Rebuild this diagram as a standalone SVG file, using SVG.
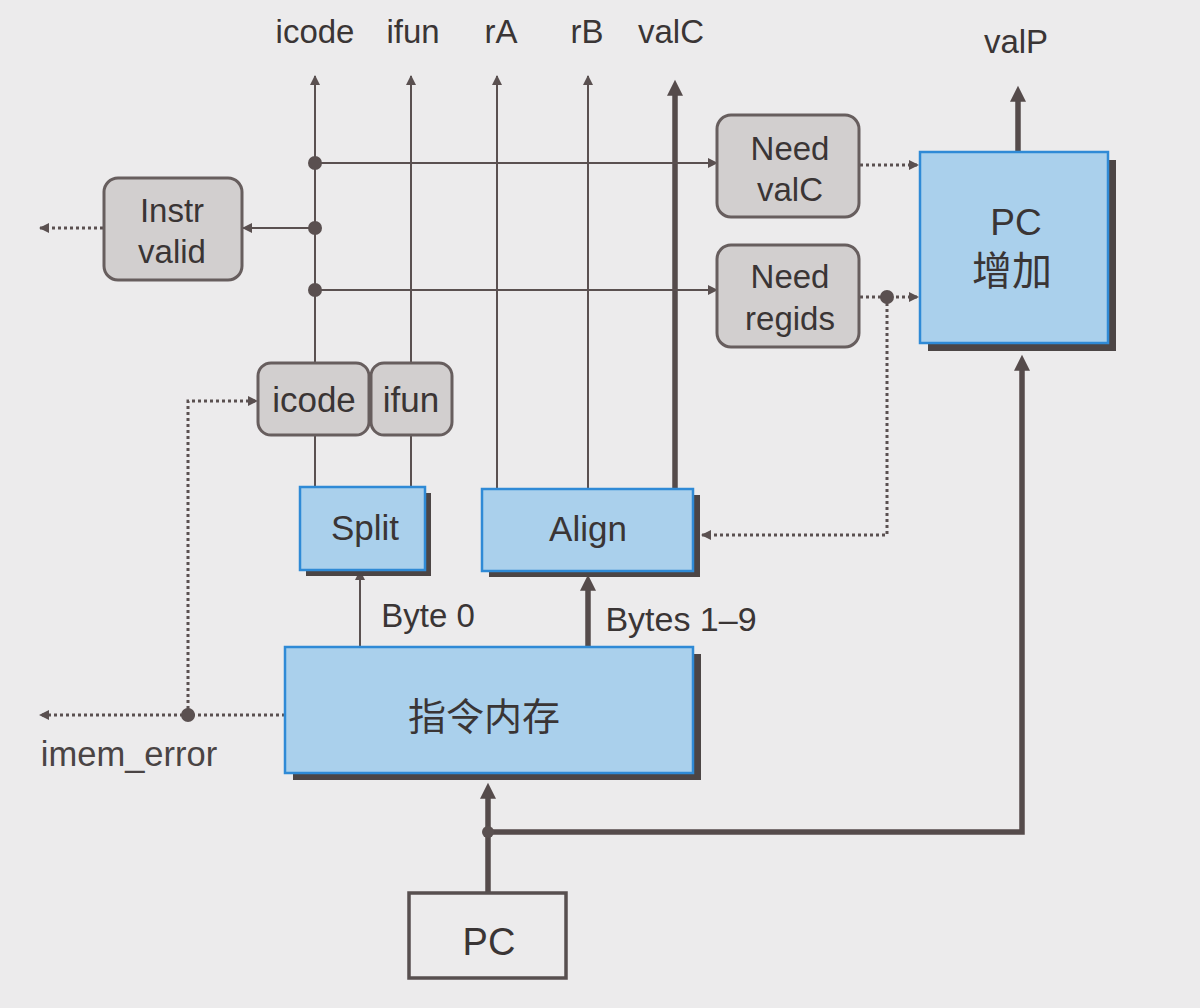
<svg xmlns="http://www.w3.org/2000/svg" width="1200" height="1008" viewBox="0 0 1200 1008">
  <defs>
    <style>
      .bg { fill: #ecebec; }
      .txt { font-family: "Liberation Sans", "Noto Sans CJK SC", sans-serif; fill: #3a3535; text-anchor: middle; }
      .lbl { font-size: 33px; }
      .box-txt { font-size: 35px; }
      .cjk { font-family: "Noto Sans CJK SC", "Liberation Sans", sans-serif; }
      .gray { fill: #d2cfcf; stroke: #675e5e; stroke-width: 3; }
      .blue { fill: #aad0ec; stroke: #2f8ad6; stroke-width: 2.5; }
      .shadow { fill: #4c4545; }
      .plain { fill: #ecebec; stroke: #574f4f; stroke-width: 3.5; }
      .thin { fill: none; stroke: #5a5050; stroke-width: 2; }
      .thick { fill: none; stroke: #554b4b; stroke-width: 5.5; }
      .dot { fill: none; stroke: #5a5050; stroke-width: 3; stroke-dasharray: 3 3; }
      .junction { fill: #5a5050; }
    </style>
    <marker id="aThin" viewBox="0 0 10 10" refX="9" refY="5" markerUnits="userSpaceOnUse" markerWidth="14" markerHeight="10" orient="auto">
      <path d="M0,0 L10,5 L0,10 z" fill="#5a5050"/>
    </marker>
    <marker id="aThick" viewBox="0 0 10 10" refX="3" refY="5" markerUnits="userSpaceOnUse" markerWidth="18" markerHeight="16" orient="auto">
      <path d="M0,0 L10,5 L0,10 z" fill="#554b4b"/>
    </marker>
    <marker id="aDot" viewBox="0 0 10 10" refX="9" refY="5" markerUnits="userSpaceOnUse" markerWidth="13" markerHeight="10" orient="auto">
      <path d="M0,0 L10,5 L0,10 z" fill="#5a5050"/>
    </marker>
  </defs>

  <rect class="bg" x="0" y="0" width="1200" height="1008"/>

  <!-- signal labels -->
  <g id="labels">
    <text class="txt lbl" x="315" y="43">icode</text>
    <text class="txt lbl" x="413" y="43">ifun</text>
    <text class="txt lbl" x="501" y="43">rA</text>
    <text class="txt lbl" x="587" y="43">rB</text>
    <text class="txt lbl" x="671" y="43">valC</text>
    <text class="txt lbl" x="1016" y="53">valP</text>
    <text class="txt lbl" x="428" y="627">Byte 0</text>
    <text class="txt" x="681" y="631" style="font-size:34px">Bytes 1–9</text>
    <text class="txt" x="129" y="766" style="font-size:34.5px;fill:#4a4444">imem_error</text>
  </g>

  <!-- connectors -->
  <g id="connectors">
    <path class="thin" d="M315 363 V76" marker-end="url(#aThin)"/>
    <path class="thin" d="M315 435 V487"/>
    <path class="thin" d="M411 363 V76" marker-end="url(#aThin)"/>
    <path class="thin" d="M411 435 V487"/>
    <path class="thin" d="M497 489 V76" marker-end="url(#aThin)"/>
    <path class="thin" d="M588 489 V76" marker-end="url(#aThin)"/>
    <path class="thick" d="M675 489 V91" marker-end="url(#aThick)"/>

    <path class="thin" d="M315 163 H717" marker-end="url(#aThin)"/>
    <path class="thin" d="M315 228 H243" marker-end="url(#aThin)"/>
    <path class="thin" d="M315 290 H717" marker-end="url(#aThin)"/>
    <circle class="junction" cx="315" cy="163" r="7"/>
    <circle class="junction" cx="315" cy="228" r="7"/>
    <circle class="junction" cx="315" cy="290" r="7"/>

    <path class="dot" d="M860 165 H918" marker-end="url(#aDot)"/>
    <path class="dot" d="M860 297 H918" marker-end="url(#aDot)"/>
    <path class="dot" d="M887 297 V535 H702" marker-end="url(#aDot)"/>
    <circle class="junction" cx="887" cy="297" r="7"/>

    <path class="dot" d="M103 228 H40" marker-end="url(#aDot)"/>
    <path class="dot" d="M285 715 H40" marker-end="url(#aDot)"/>
    <path class="dot" d="M188 715 V401 H257" marker-end="url(#aDot)"/>
    <circle class="junction" cx="188" cy="715" r="7"/>

    <path class="thin" d="M360 647 V571" marker-end="url(#aThin)"/>
    <path class="thick" d="M588 647 V586" marker-end="url(#aThick)"/>

    <path class="thick" d="M488 893 V794" marker-end="url(#aThick)"/>
    <path class="thick" d="M488 832 H1022 V366" marker-end="url(#aThick)"/>
    <circle class="junction" cx="488" cy="832" r="6"/>

    <path class="thick" d="M1018 152 V97" marker-end="url(#aThick)"/>
  </g>

  <!-- nodes -->
  <g id="instr-valid">
    <rect class="gray" x="104" y="178" width="138" height="102" rx="14"/>
    <text class="txt lbl" x="172" y="222">Instr</text>
    <text class="txt lbl" x="172" y="263">valid</text>
  </g>

  <g id="need-valc">
    <rect class="gray" x="717" y="115" width="142" height="102" rx="14"/>
    <text class="txt lbl" x="790" y="160">Need</text>
    <text class="txt lbl" x="790" y="201">valC</text>
  </g>

  <g id="need-regids">
    <rect class="gray" x="717" y="245" width="142" height="102" rx="14"/>
    <text class="txt lbl" x="790" y="288">Need</text>
    <text class="txt lbl" x="790" y="330">regids</text>
  </g>

  <g id="pc-incr">
    <rect class="shadow" x="928" y="160" width="188" height="191"/>
    <rect class="blue" x="920" y="152" width="188" height="191"/>
    <text class="txt" x="1016" y="235" style="font-size:37px">PC</text>
    <text class="txt cjk" x="1012" y="285" style="font-size:40px">增加</text>
  </g>

  <g id="icode-reg">
    <rect class="gray" x="258" y="363" width="111" height="72" rx="13"/>
    <text class="txt box-txt" x="314" y="412">icode</text>
  </g>

  <g id="ifun-reg">
    <rect class="gray" x="371" y="363" width="81" height="72" rx="13"/>
    <text class="txt box-txt" x="411" y="412">ifun</text>
  </g>

  <g id="split">
    <rect class="shadow" x="306" y="493" width="125" height="83"/>
    <rect class="blue" x="300" y="487" width="125" height="83"/>
    <text class="txt box-txt" x="365" y="540">Split</text>
  </g>

  <g id="align">
    <rect class="shadow" x="489" y="495" width="211" height="82"/>
    <rect class="blue" x="482" y="489" width="211" height="82"/>
    <text class="txt box-txt" x="588" y="541">Align</text>
  </g>

  <g id="imem">
    <rect class="shadow" x="293" y="654" width="408" height="126"/>
    <rect class="blue" x="285" y="647" width="408" height="126"/>
    <text class="txt cjk" x="484" y="730" style="font-size:38px">指令内存</text>
  </g>

  <g id="pc">
    <rect class="plain" x="409" y="893" width="157" height="85"/>
    <text class="txt" x="489" y="955" style="font-size:38px">PC</text>
  </g>
</svg>
